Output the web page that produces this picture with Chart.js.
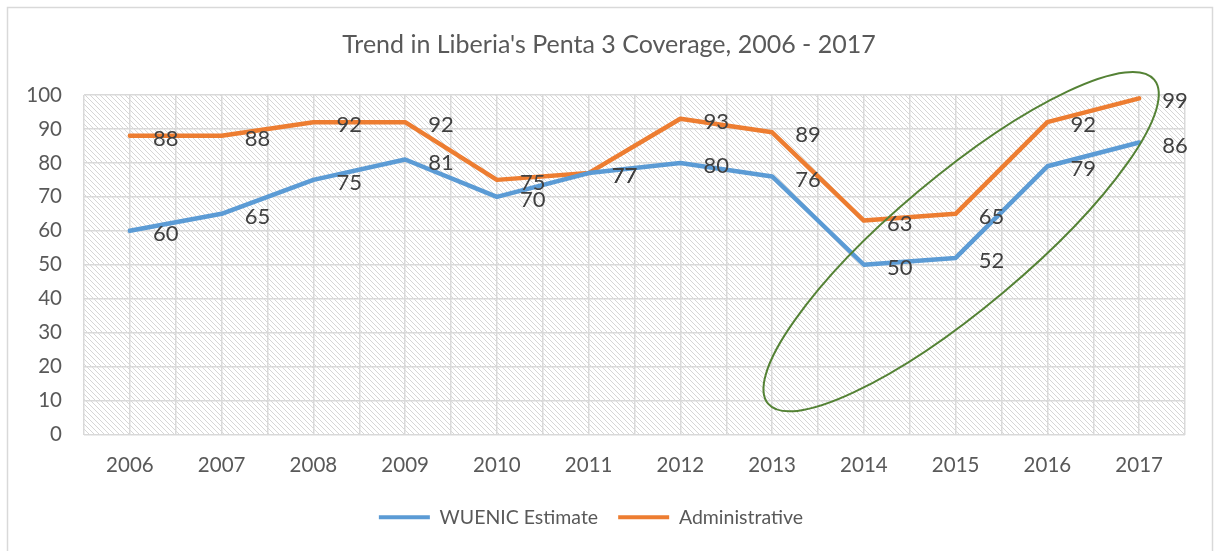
<!DOCTYPE html>
<html>
<head>
<meta charset="utf-8">
<script src="https://cdn.jsdelivr.net/npm/chart.js@4.4.1/dist/chart.umd.min.js"></script>
<style>
  html, body { margin: 0; padding: 0; background: #fff; }
  #wrap { width: 1218px; height: 551px; position: relative; }
</style>
</head>
<body>
<div id="wrap"><canvas id="chart"></canvas></div>
<script>
'use strict';

// Dados
const YEARS = ['2006', '2007', '2008', '2009', '2010', '2011', '2012', '2013', '2014', '2015', '2016', '2017'];
const WUENIC = [60, 65, 75, 81, 70, 77, 80, 76, 50, 52, 79, 86];
const ADMIN = [88, 88, 92, 92, 75, 77, 93, 89, 63, 65, 92, 99];
const Y_TICKS = [0, 10, 20, 30, 40, 50, 60, 70, 80, 90, 100];

const FONT = 'Lato, "Open Sans", sans-serif';
const COLORS = { wuenic: '#5b9bd5', admin: '#ed7d31', grid: '#d9d9d9', text: '#595959', label: '#404040', ring: '#548235' };

// Elipse destacando 2014-2017 (centro em coordenadas dos eixos)
const RING = { xIndex: 9.06, yValue: 56.8, rx: 252, ry: 66, angleDeg: -40 };

// --- Plugins --------------------------------------------------------------

function hatchPattern(ctx) {
  const c = document.createElement('canvas');
  c.width = 5; c.height = 5;
  const p = c.getContext('2d');
  p.fillStyle = '#ffffff';
  p.fillRect(0, 0, 5, 5);
  p.strokeStyle = '#d6d6d6';
  p.lineWidth = 1;
  p.beginPath();
  p.moveTo(-1, -1); p.lineTo(6, 6);
  p.moveTo(-1, 4); p.lineTo(1, 6);
  p.moveTo(4, -1); p.lineTo(6, 1);
  p.stroke();
  return ctx.createPattern(c, 'repeat');
}

const frame = {
  id: 'frame',
  afterLayout(chart) {
    // legenda um pouco deslocada para a esquerda, como no original
    chart.legend.left -= 18;
    chart.legend.right -= 18;
  },
  beforeDraw(chart) {
    const { ctx, chartArea: a } = chart;
    ctx.save();
    ctx.fillStyle = '#fff';
    ctx.fillRect(0, 0, chart.width, chart.height);
    ctx.strokeStyle = COLORS.grid;
    ctx.lineWidth = 1.5;
    ctx.strokeRect(7.5, 7.5, 1205, 560);
    ctx.fillStyle = hatchPattern(ctx);
    ctx.fillRect(a.left, a.top, a.right - a.left, a.bottom - a.top);
    ctx.restore();
  },
};

const dataLabels = {
  id: 'dataLabels',
  afterDatasetsDraw(chart) {
    const { ctx } = chart;
    ctx.save();
    ctx.font = '22px ' + FONT;
    ctx.fillStyle = COLORS.label;
    ctx.textAlign = 'left';
    ctx.textBaseline = 'middle';
    chart.data.datasets.forEach((ds, i) => {
      chart.getDatasetMeta(i).data.forEach((pt, j) => {
        ctx.fillText(String(ds.data[j]), pt.x + 23, pt.y + 3);
      });
    });
    ctx.restore();
  },
};

const ring = {
  id: 'ring',
  afterDatasetsDraw(chart) {
    const { ctx, scales } = chart;
    const cx = scales.x.getPixelForValue(RING.xIndex);
    const cy = scales.y.getPixelForValue(RING.yValue);
    ctx.save();
    ctx.strokeStyle = COLORS.ring;
    ctx.lineWidth = 2;
    ctx.beginPath();
    ctx.ellipse(cx, cy, RING.rx, RING.ry, RING.angleDeg * Math.PI / 180, 0, Math.PI * 2);
    ctx.stroke();
    ctx.restore();
  },
};

// --- Chart ----------------------------------------------------------------

function lineDataset(label, data, color) {
  return {
    label,
    data,
    borderColor: color,
    backgroundColor: color,
    borderWidth: 4.5,
    pointRadius: 0,
    tension: 0,
    borderCapStyle: 'round',
    borderJoinStyle: 'round',
  };
}

new Chart(document.getElementById('chart'), {
  type: 'line',
  data: {
    labels: YEARS,
    datasets: [
      lineDataset('WUENIC Estimate', WUENIC, COLORS.wuenic),
      lineDataset('Administrative', ADMIN, COLORS.admin),
    ],
  },
  options: {
    responsive: true,
    maintainAspectRatio: false,
    animation: false,
    layout: { padding: { left: 8, right: 8, top: 0, bottom: 14 } },
    plugins: {
      title: {
        display: true,
        text: "Trend in Liberia's Penta 3 Coverage, 2006 - 2017",
        color: COLORS.text,
        font: { family: FONT, size: 25, weight: 'normal' },
        padding: { top: 30, bottom: 35 },
      },
      legend: {
        position: 'bottom',
        labels: {
          color: COLORS.text,
          font: { family: FONT, size: 19.5 },
          boxWidth: 51,
          boxHeight: 4,
          padding: 20,
          generateLabels(chart) {
            const items = Chart.defaults.plugins.legend.labels.generateLabels(chart);
            items.forEach((it) => { it.lineWidth = 0; });
            return items;
          },
        },
      },
      tooltip: { enabled: false },
    },
    scales: {
      x: {
        offset: true,
        grid: { display: false, drawTicks: false },
        border: { display: false },
        ticks: { color: COLORS.text, font: { family: FONT, size: 20.5 }, padding: 19 },
        afterFit(scale) { scale.height = 53; },
      },
      xg: {
        type: 'linear',
        position: 'bottom',
        min: -0.5,
        max: YEARS.length - 0.5,
        grid: { color: COLORS.grid, lineWidth: 1.5, drawTicks: false },
        border: { display: false },
        ticks: { display: false, stepSize: 0.5 },
        afterFit(scale) { scale.height = 0; },
      },
      y: {
        min: 0,
        max: 100,
        afterBuildTicks(scale) { scale.ticks = Y_TICKS.map((v) => ({ value: v })); },
        grid: { color: COLORS.grid, lineWidth: 1.5, drawTicks: false },
        border: { display: false },
        ticks: { color: COLORS.text, font: { family: FONT, size: 20.5 }, padding: 22 },
        afterFit(scale) { scale.width = 76; },
      },
      // eixo vazio a direita, so para reservar margem
      yr: {
        position: 'right',
        min: 0,
        max: 100,
        grid: { display: false, drawTicks: false },
        border: { display: false },
        ticks: { display: false },
        afterFit(scale) { scale.width = 25; },
      },
    },
  },
  plugins: [frame, dataLabels, ring],
});
</script>
</body>
</html>
